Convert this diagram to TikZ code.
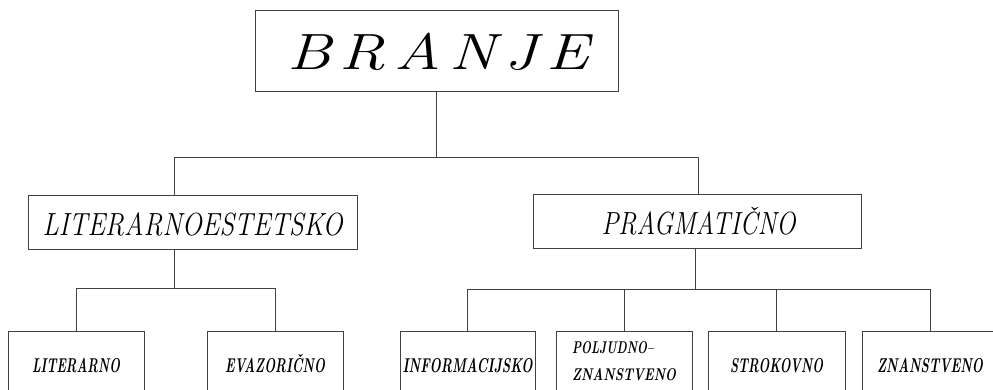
\documentclass[tikz,border=0pt]{standalone}
\usepackage{fontspec}
\setmainfont{Latin Modern Roman}
\newcommand\midfont{\fontsize{32}{36}\selectfont\itshape}
\newcommand\leaffont{\fontsize{20}{24}\selectfont\bfseries\itshape}
\newcommand\leafsmall{\fontsize{17}{20}\selectfont\bfseries\itshape}
\newcommand\fitto[2]{\setbox0=\hbox{#2}\pgfmathsetmacro\fitsx{#1/\the\wd0}\scalebox{\fitsx}[1]{\box0}}
\tikzset{
  conn/.style={draw=black!75, line width=1pt},
  topbox/.style={conn, minimum width=363pt, minimum height=81pt, inner sep=0pt, text height=35pt, text depth=0pt},
  midbox/.style={conn, minimum width=329pt, minimum height=54pt, inner sep=0pt, text height=22pt, text depth=0pt},
  leafbox/.style={conn, minimum width=136pt, minimum height=68pt, inner sep=0pt, text height=14pt, text depth=0pt},
  leafbox2/.style={conn, minimum width=136pt, minimum height=60pt, inner sep=0pt, text height=12pt, text depth=27pt}
}
\begin{document}
\begin{tikzpicture}[x=1pt,y=-1pt]
\path[use as bounding box] (0,0) rectangle (993,389);
\clip (0,0) rectangle (993,389);
% nodes
\node[topbox] (branje) at (436.5,50.5) {\fontsize{51}{56}\selectfont\itshape\raisebox{-1pt}{\hspace{3pt}\fitto{302pt}{B\kern7pt R\kern7pt A\kern7pt N\kern7pt J\kern7pt E}}};
\node[midbox] (lit) at (192.5,222) {\midfont\raisebox{-2pt}{\fitto{300pt}{LITERARNOESTETSKO}}};
\node[midbox, minimum width=328pt] (prag) at (697,221) {\midfont\raisebox{-2pt}{\hspace{3pt}\fitto{194pt}{PRAGMATIČNO}}};
\node[leafbox] (litr) at (76,365) {\leaffont\fitto{88pt}{LITERARNO}};
\node[leafbox] (evaz) at (275,365) {\leaffont\fitto{100pt}{EVAZORIČNO}};
\node[leafbox, minimum width=135pt] (info) at (467.5,365) {\leaffont\fitto{130pt}{INFORMACIJSKO}};
\node[leafbox2] (polj) at (624,361) {\rlap{\hspace{-52pt}\fitto{82pt}{\leafsmall POLJUDNO--}}\rlap{\hspace{-52pt}\raisebox{-27pt}{\fitto{104pt}{\leafsmall ZNANSTVENO}}}};
\node[leafbox, minimum width=137pt] (strok) at (776.5,365) {\leaffont\fitto{93pt}{STROKOVNO}};
\node[leafbox] (znan) at (930,365) {\leaffont\fitto{106pt}{ZNANSTVENO}};
% junction coordinates
\coordinate (litx) at (174,157);
\coordinate (pragx) at (698,157);
\coordinate (litbus) at (174,288);
\coordinate (pragbus) at (695,289);
% connectors
\draw[conn] (branje.south) -- (branje.south |- litx);
\draw[conn] (lit.north -| litx) -- (litx) -- (pragx) -- (prag.north -| pragx);
\draw[conn] (lit.south -| litbus) -- (litbus);
\draw[conn] (litr.north) -- (litr.north |- litbus) -- (evaz.north |- litbus) -- (evaz.north);
\draw[conn] (prag.south -| pragbus) -- (pragbus);
\draw[conn] (info.north) -- (info.north |- pragbus) -- (znan.north |- pragbus) -- (znan.north);
\draw[conn] (polj.north) -- (polj.north |- pragbus);
\draw[conn] (strok.north) -- (strok.north |- pragbus);
\end{tikzpicture}
\end{document}
